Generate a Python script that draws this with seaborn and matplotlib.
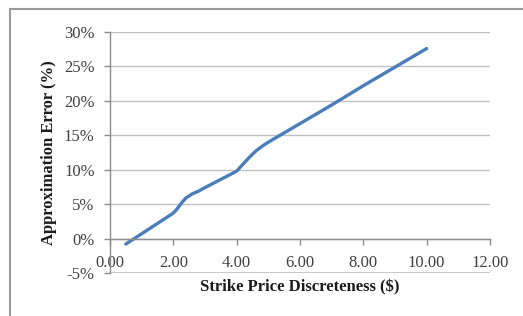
import matplotlib
matplotlib.use('Agg')

import numpy as np
import pandas as pd
import seaborn as sns
import matplotlib.pyplot as plt
from matplotlib.ticker import FuncFormatter, MultipleLocator
from matplotlib.patches import Rectangle

# strike price discreteness ($) vs approximation error (%)
discreteness = [0.5, 1.0, 1.5, 2.0, 2.1, 2.2, 2.3, 2.4, 2.6, 2.8, 3.0, 3.5, 3.8, 4.0,
                4.2, 4.4, 4.6, 4.8, 5.0, 6.0, 7.0, 8.0, 9.0, 10.0]
approx_error = [-0.8, 0.7, 2.2, 3.7, 4.2, 4.8, 5.4, 5.9, 6.5, 6.9, 7.4, 8.6, 9.3, 9.8,
                10.8, 11.8, 12.7, 13.4, 14.0, 16.7, 19.4, 22.2, 24.9, 27.6]

df = pd.DataFrame({'Discreteness': discreteness, 'Error': approx_error})

sns.set_theme(style='white')
plt.rcParams['font.family'] = ['Liberation Serif', 'DejaVu Serif']

fig = plt.figure(figsize=(5.23, 3.16), dpi=100)
ax = fig.add_axes([110 / 523, 1 - 273 / 316, 380 / 523, 241 / 316])

grid_col = '#c0c0c0'
axis_col = '#8c8c8c'

sns.lineplot(data=df, x='Discreteness', y='Error', ax=ax, color='#4a7ebb',
             linewidth=2.4, solid_capstyle='round', solid_joinstyle='round')

ax.set_xlim(0, 12)
ax.set_ylim(-5, 30)
ax.xaxis.set_major_locator(MultipleLocator(2))
ax.yaxis.set_major_locator(MultipleLocator(5))
ax.xaxis.set_major_formatter(FuncFormatter(lambda v, p: f'{v:.2f}'))
ax.yaxis.set_major_formatter(FuncFormatter(lambda v, p: f'{v:.0f}%'))

ax.grid(True, axis='y', color=grid_col, linewidth=1.0)
ax.set_axisbelow(True)

for s in ['top', 'right']:
    ax.spines[s].set_visible(False)
ax.spines['left'].set_color(axis_col)
ax.spines['left'].set_linewidth(1.0)
ax.spines['bottom'].set_position(('data', 0))
ax.spines['bottom'].set_color(axis_col)
ax.spines['bottom'].set_linewidth(1.0)
ax.axhline(-5, color=grid_col, linewidth=1.2, zorder=0)

ax.tick_params(axis='both', which='major', direction='out', length=4, width=1.0,
               color=axis_col, labelsize=12, labelcolor='#404040')
ax.tick_params(axis='y', left=True, pad=7)
ax.tick_params(axis='x', bottom=True, pad=8)

ax.set_xlabel('Strike Price Discreteness ($)', fontsize=12, fontweight='bold', color='#1a1a1a')
ax.set_ylabel('Approximation Error (%)', fontsize=12, fontweight='bold', color='#1a1a1a')
ax.xaxis.set_label_coords(0.5, -0.025)
ax.yaxis.set_label_coords(-0.14, 0.5)

# outer chart frame (runs off the right and bottom edges)
fig.add_artist(Rectangle((10 / 523, -0.2), 1.5, (316 - 9) / 316 + 0.2,
                         transform=fig.transFigure, fill=False,
                         edgecolor='#9a9a9a', linewidth=1.5))

fig.savefig('out.png', dpi=100)
